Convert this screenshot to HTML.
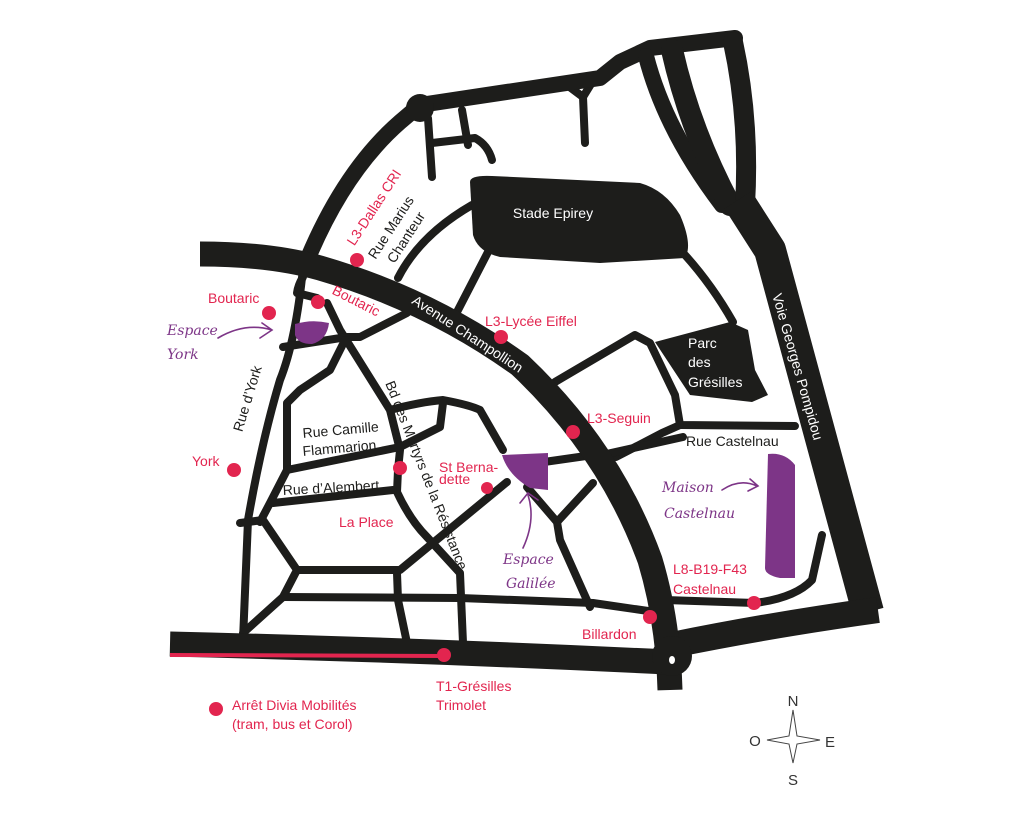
<!DOCTYPE html>
<html><head><meta charset="utf-8"><style>
html,body{margin:0;padding:0;background:#fff}
svg{display:block}
text{font-family:"Liberation Sans",sans-serif}
.p{fill:#e2254f;font-size:14px}
.b{fill:#1d1d1b;font-size:14px}
.w{fill:#fff;font-size:14px}
.s{fill:#7d3587;font-family:"DejaVu Serif","Liberation Serif",serif;font-style:italic;font-size:14px}
</style></head><body>
<svg width="1024" height="819" viewBox="0 0 1024 819" xmlns="http://www.w3.org/2000/svg">
<g fill="none" stroke="#1d1d1b" stroke-linecap="round" stroke-linejoin="round">
<g stroke-width="8">
<path d="M428,118 L432,177"/>
<path d="M462,110 L468,145"/>
<path d="M432,143 L475,138 Q488,145 492,160"/>
<path d="M567,85 L583,97 L591,84 M583,97 L585,143"/>
<path d="M472,205 Q420,235 398,278"/>
<path d="M488,252 L457,312"/>
<path d="M685,255 Q712,285 733,322"/>
<path d="M555,382 L635,335 L650,343 L675,395 L680,425 L795,426"/>
<path d="M680,425 L662,433 L616,457"/>
<path d="M593,457 L683,437"/>
<path d="M537,463 L593,455"/>
<path d="M303,268 Q296,340 280,380 Q262,440 248,520 L243,640"/>
<path d="M303,277 Q298,285 297,293 L317,298"/>
<path d="M327,303 L340,330 L365,370 L390,410 L400,450 L398,470 L397,492 Q410,520 427,537 L460,573 L463,643"/>
<path d="M283,347 L347,337 L360,337 L407,313"/>
<path d="M345,340 L330,370 L300,390 L287,403 L287,470 L270,503 L260,522"/>
<path d="M390,410 Q420,402 443,400 Q470,405 480,410 L503,450"/>
<path d="M287,470 L400,447 L440,427 L443,403"/>
<path d="M273,503 L393,490"/>
<path d="M240,523 L263,520 L297,570 L283,597 L243,633"/>
<path d="M297,570 L400,570 L507,482"/>
<path d="M283,597 L460,598 L593,603 L655,612"/>
<path d="M397,573 L398,600 L407,643"/>
<path d="M527,487 L557,522 L560,540 L590,607"/>
<path d="M557,522 L593,483"/>
<path d="M665,600 L755,603 Q795,598 812,580 L822,535"/>
</g>
<path d="M308,258 Q345,170 400,122 L420,105 L600,78 L620,62 L650,48 L735,38" stroke-width="16"/>
<path d="M646,56 Q665,130 722,205" stroke-width="16"/>
<path d="M672,50 Q690,130 730,205" stroke-width="22"/>
<path d="M733,42 Q750,120 745,205" stroke-width="20"/>
<circle cx="420" cy="108" r="14" fill="#1d1d1b" stroke="none"/>
<path d="M738,200 L770,250 L868,612" stroke-width="32" stroke-linecap="butt"/>
<path d="M672,645 Q770,625 878,610" stroke-width="26" stroke-linecap="butt"/>
<path d="M200,254 Q270,254 320,268 Q430,300 520,365 Q610,450 650,560 Q668,620 670,690" stroke-width="25" stroke-linecap="butt"/>
<path d="M170,644 Q420,650 668,662" stroke-width="25" stroke-linecap="butt"/>
</g>
<circle cx="672" cy="656" r="20" fill="#1d1d1b"/>
<ellipse cx="672" cy="660" rx="3" ry="4" fill="#fff"/>
<path d="M170,655 L444,656" stroke="#e2254f" stroke-width="4"/>
<path d="M470,182 Q470,175 492,176 L640,183 Q665,190 680,215 Q693,245 685,258 L600,263 L500,257 Q478,252 473,235 Z" fill="#1d1d1b"/>
<path d="M655,342 L730,322 L748,330 L755,370 L768,395 L752,402 L690,395 Z" fill="#1d1d1b"/>
<path d="M295,324 Q312,319 329,323 Q327,340 312,344 Q298,344 295,335 Z" fill="#7d3587"/>
<path d="M502,455 L548,453 L548,490 L530,488 Q508,475 502,455 Z" fill="#7d3587"/>
<path d="M768,454 Q785,452 795,465 L795,578 L780,578 Q765,575 765,568 Z" fill="#7d3587"/>
<g fill="#e2254f">
<circle cx="357" cy="260" r="7"/><circle cx="318" cy="302" r="7"/><circle cx="269" cy="313" r="7"/>
<circle cx="501" cy="337" r="7"/><circle cx="573" cy="432" r="7"/><circle cx="234" cy="470" r="7"/>
<circle cx="400" cy="468" r="7"/><circle cx="487" cy="488" r="6"/><circle cx="650" cy="617" r="7"/>
<circle cx="754" cy="603" r="7"/><circle cx="444" cy="655" r="7"/><circle cx="216" cy="709" r="7"/>
</g>
<g fill="none" stroke="#7d3587" stroke-width="1.6" stroke-linecap="round">
<path d="M218,338 Q245,322 272,330 M262,323 L272,330 L260,338"/>
<path d="M523,548 Q536,520 528,495 M520,503 L528,493 L538,500"/>
<path d="M722,490 Q740,478 757,486 M750,479 L758,486 L748,491"/>
</g>
<text class="w" x="553" y="218" text-anchor="middle" font-size="15">Stade Epirey</text>
<text class="w" x="688" y="348">Parc</text><text class="w" x="688" y="367">des</text><text class="w" x="688" y="387">Grésilles</text>
<text class="w" transform="translate(793,368) rotate(74)" text-anchor="middle" font-size="13">Voie Georges Pompidou</text>
<text class="w" transform="translate(465,338) rotate(33)" text-anchor="middle">Avenue Champollion</text>
<text class="p" transform="translate(378,210) rotate(-57)" text-anchor="middle">L3-Dallas CRI</text>
<text class="b" transform="translate(395,230) rotate(-57)" text-anchor="middle">Rue Marius</text>
<text class="b" transform="translate(410,240) rotate(-57)" text-anchor="middle">Chanteur</text>
<text class="p" x="208" y="303">Boutaric</text>
<text class="p" transform="translate(354,305) rotate(27)" text-anchor="middle">Boutaric</text>
<text class="b" transform="translate(252,400) rotate(-73)" text-anchor="middle">Rue d’York</text>
<text class="b" transform="translate(422,477) rotate(68.5)" text-anchor="middle" font-size="13.5">Bd des Martyrs de la Résistance</text>
<text class="b" transform="translate(303,438) rotate(-5)">Rue Camille</text>
<text class="b" transform="translate(303,456) rotate(-5)">Flammarion</text>
<text class="b" transform="translate(283,495) rotate(-3)">Rue d’Alembert</text>
<text class="p" x="339" y="527">La Place</text>
<text class="p" x="439" y="472" font-size="11">St Berna-</text>
<text class="p" x="439" y="484" font-size="11">dette</text>
<text class="s" x="503" y="564">Espace</text><text class="s" x="506" y="588">Galilée</text>
<text class="s" x="167" y="335">Espace</text><text class="s" x="167" y="359">York</text>
<text class="s" x="662" y="492">Maison</text><text class="s" x="664" y="518">Castelnau</text>
<text class="p" x="485" y="326">L3-Lycée Eiffel</text>
<text class="p" x="587" y="423">L3-Seguin</text>
<text class="b" x="686" y="446">Rue Castelnau</text>
<text class="p" x="192" y="466">York</text>
<text class="p" x="673" y="574">L8-B19-F43</text><text class="p" x="673" y="594">Castelnau</text>
<text class="p" x="582" y="639">Billardon</text>
<text class="p" x="436" y="691">T1-Grésilles</text><text class="p" x="436" y="710">Trimolet</text>
<text class="p" x="232" y="710">Arrêt Divia Mobilités</text><text class="p" x="232" y="729">(tram, bus et Corol)</text>
<path d="M793,710 L797,736 L820,740 L797,744 L793,763 L789,744 L767,740 L789,736 Z" fill="none" stroke="#444" stroke-width="1"/>
<g fill="#333" font-size="15" text-anchor="middle">
<text x="793" y="706">N</text><text x="793" y="785">S</text><text x="755" y="746">O</text><text x="830" y="747">E</text>
</g>
</svg>
</body></html>
